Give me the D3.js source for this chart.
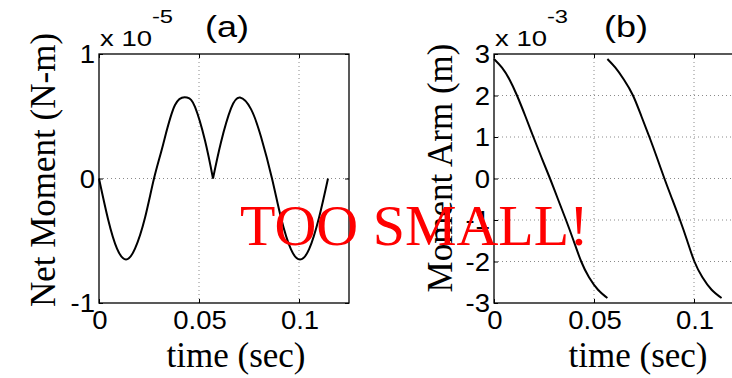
<!DOCTYPE html>
<html>
<head>
<meta charset="utf-8">
<script src="https://cdn.jsdelivr.net/npm/d3@7"></script>
<style>
  body { margin: 0; background: #fff; }
  svg { display: block; }
</style>
</head>
<body>
<script>
// Panel (a): net moment over one cycle, in units of 1e-5 N-m.
// The two halves meet at a cusp (index 12), drawn as separate smooth pieces.
const timeA   = [0, 0.0045, 0.009, 0.0135, 0.018, 0.023, 0.0275, 0.032, 0.038, 0.044, 0.048, 0.053, 0.057,
                 0.061, 0.066, 0.0705, 0.076, 0.081, 0.0865, 0.091, 0.096, 0.1005, 0.105, 0.110, 0.1145];
const momentA = [0, -0.325, -0.563, -0.65, -0.563, -0.315, 0, 0.27, 0.59, 0.65, 0.575, 0.305, 0,
                 0.292, 0.563, 0.65, 0.557, 0.335, 0, -0.315, -0.57, -0.65, -0.57, -0.315, 0];
const cuspIndexA = 12;

// Panel (b): moment arm, in units of 1e-3 m, two sweeps.
const timeB1 = [0, 0.0040, 0.0078, 0.0115, 0.0157, 0.0197, 0.0238, 0.0280, 0.0320, 0.0360, 0.0398, 0.0436, 0.0475, 0.0520, 0.0567];
const armB1  = [2.88, 2.67, 2.38, 2.0, 1.5, 1.0, 0.5, 0, -0.5, -1.0, -1.5, -2.0, -2.38, -2.68, -2.88];
const timeB2 = [0.0567, 0.0607, 0.0650, 0.0695, 0.0737, 0.0777, 0.0815, 0.0852, 0.0891, 0.0930, 0.0966, 0.1002, 0.1042, 0.1088, 0.1138];
const armB2  = [2.88, 2.67, 2.38, 2.0, 1.5, 1.0, 0.5, 0, -0.5, -1.0, -1.5, -2.0, -2.38, -2.68, -2.88];

const xTicks = [0, 0.05, 0.1];
const xTickLabels = ["0", "0.05", "0.1"];
const yTicksA = [-1, 0, 1];
const yTickLabelsA = ["-1", "0", "1"];
const yTicksB = [-3, -2, -1, 0, 1, 2, 3];
const yTickLabelsB = ["-3", "-2", "-1", "0", "1", "2", "3"];

const W = 732, H = 378;
const SANS = "'Liberation Sans', Arial, Helvetica, sans-serif";
const SERIF = "'Liberation Serif', 'Times New Roman', Times, serif";

const svg = d3.select("body").append("svg")
  .attr("width", W).attr("height", H)
  .attr("viewBox", `0 0 ${W} ${H}`);

function drawPanel(o) {
  const x = d3.scaleLinear().domain([0, 0.125]).range([o.left, o.left + o.width]);
  const y = d3.scaleLinear().domain(o.yDomain).range([o.top + o.height, o.top]);
  const g = svg.append("g");

  // dotted grid at interior ticks
  g.selectAll(".gx").data(xTicks.filter(t => t > 0)).join("line")
    .attr("x1", d => x(d)).attr("x2", d => x(d))
    .attr("y1", o.top).attr("y2", o.top + o.height)
    .attr("stroke", "#8a8a8a").attr("stroke-width", 1).attr("stroke-dasharray", "1,3");
  g.selectAll(".gy").data(o.yTicks.slice(1, -1)).join("line")
    .attr("x1", o.left).attr("x2", o.left + o.width)
    .attr("y1", d => y(d)).attr("y2", d => y(d))
    .attr("stroke", "#8a8a8a").attr("stroke-width", 1).attr("stroke-dasharray", "1,3");

  // inward tick marks on all four sides
  const tk = 4;
  const tickStyle = s => s.attr("stroke", "#000").attr("stroke-width", 1);
  g.append("g").attr("transform", `translate(0,${o.top + o.height})`)
    .call(d3.axisBottom(x).tickValues(xTicks).tickSizeInner(-tk).tickSizeOuter(0).tickFormat(""))
    .call(a => a.select(".domain").remove()).call(a => tickStyle(a.selectAll("line")));
  g.append("g").attr("transform", `translate(0,${o.top})`)
    .call(d3.axisTop(x).tickValues(xTicks).tickSizeInner(-tk).tickSizeOuter(0).tickFormat(""))
    .call(a => a.select(".domain").remove()).call(a => tickStyle(a.selectAll("line")));
  g.append("g").attr("transform", `translate(${o.left},0)`)
    .call(d3.axisLeft(y).tickValues(o.yTicks).tickSizeInner(-tk).tickSizeOuter(0).tickFormat(""))
    .call(a => a.select(".domain").remove()).call(a => tickStyle(a.selectAll("line")));
  g.append("g").attr("transform", `translate(${o.left + o.width},0)`)
    .call(d3.axisRight(y).tickValues(o.yTicks).tickSizeInner(-tk).tickSizeOuter(0).tickFormat(""))
    .call(a => a.select(".domain").remove()).call(a => tickStyle(a.selectAll("line")));

  // box
  g.append("rect")
    .attr("x", o.left).attr("y", o.top).attr("width", o.width).attr("height", o.height)
    .attr("fill", "none").attr("stroke", "#000").attr("stroke-width", 1.3);

  // data curves
  const line = d3.line().x(d => x(d[0])).y(d => y(d[1])).curve(d3.curveNatural);
  o.series.forEach(s => {
    g.append("path").datum(s).attr("d", line)
      .attr("fill", "none").attr("stroke", "#000").attr("stroke-width", 2);
  });

  // tick labels (sans, slightly wide)
  const sx = 1.1;
  g.selectAll(".xl").data(xTicks).join("text")
    .attr("transform", d => `translate(${x(d) + 1},${o.top + o.height + 26}) scale(${sx},1)`)
    .attr("text-anchor", "middle")
    .attr("font-family", SANS).attr("font-size", 25)
    .text((d, i) => xTickLabels[i]);
  g.selectAll(".yl").data(o.yTicks).join("text")
    .attr("transform", d => `translate(${o.left - 4},${y(d)}) scale(${sx},1)`)
    .attr("dy", "0.36em")
    .attr("text-anchor", "end")
    .attr("font-family", SANS).attr("font-size", 25)
    .text((d, i) => o.yTickLabels[i]);

  // exponent label above the axis
  const ex = g.append("text")
    .attr("transform", `translate(${o.left + 1},46) scale(1.25,1)`)
    .attr("font-family", SANS).attr("font-size", 22);
  ex.append("tspan").text("x 10");
  ex.append("tspan").attr("dy", -23).attr("font-size", 19).text(o.exponent);

  // panel title
  g.append("text")
    .attr("transform", `translate(${o.titleX},37) scale(1.2,1)`)
    .attr("text-anchor", "middle")
    .attr("font-family", SANS).attr("font-size", 30)
    .text(o.title);

  // axis labels
  g.append("text")
    .attr("x", o.xLabelX).attr("y", 367)
    .attr("text-anchor", "middle")
    .attr("font-family", SERIF).attr("font-size", 35)
    .text("time (sec)");
  g.append("text")
    .attr("transform", `translate(${o.yLabelX},${o.yLabelY}) rotate(-90)`)
    .attr("text-anchor", "middle")
    .attr("font-family", SERIF).attr("font-size", 35)
    .text(o.yLabel);
}

const ptsA = timeA.map((t, i) => [t, momentA[i]]);
drawPanel({
  left: 99, top: 54, width: 250, height: 249,
  yDomain: [-1, 1], yTicks: yTicksA, yTickLabels: yTickLabelsA,
  series: [ptsA.slice(0, cuspIndexA + 1), ptsA.slice(cuspIndexA)],
  exponent: "-5", title: "(a)", titleX: 227,
  xLabelX: 236, yLabel: "Net Moment (N-m)", yLabelX: 55, yLabelY: 170
});

drawPanel({
  left: 494, top: 54, width: 250, height: 249,
  yDomain: [-3, 3], yTicks: yTicksB, yTickLabels: yTickLabelsB,
  series: [timeB1.map((t, i) => [t, armB1[i]]), timeB2.map((t, i) => [t, armB2[i]])],
  exponent: "-3", title: "(b)", titleX: 626,
  xLabelX: 638, yLabel: "Moment Arm (m)", yLabelX: 452, yLabelY: 168
});

// stamp across the figure
svg.append("text")
  .attr("x", 240).attr("y", 245)
  .attr("font-family", SERIF).attr("font-size", 58)
  .attr("fill", "#ff0000")
  .text("TOO SMALL!");
</script>
</body>
</html>
